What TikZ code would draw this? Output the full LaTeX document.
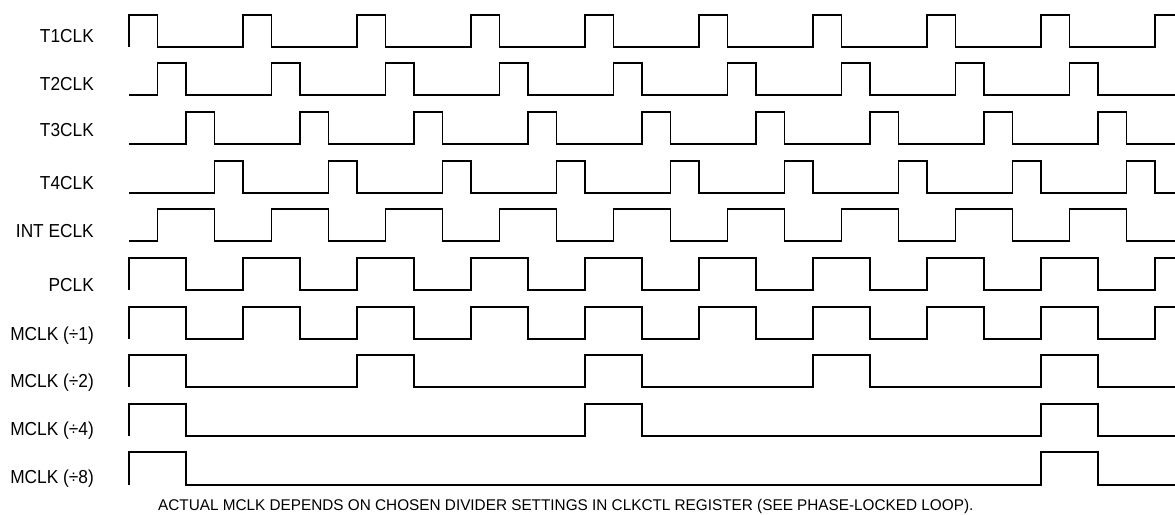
\documentclass[tikz,border=0pt]{standalone}
\usepackage{fontspec}
\setmainfont{Liberation Sans}[FakeStretch=0.92]
\newfontfamily\capfont{Liberation Sans}[FakeStretch=0.988]
\begin{document}
\begin{tikzpicture}[x=1pt,y=-1pt,
  lbl/.style={anchor=base east,inner sep=0pt,font=\fontsize{18.8}{20}\selectfont},
  wave/.style={line width=1.8pt,line join=miter,black}]
\useasboundingbox (0,0) rectangle (1175,514);
% labels
\node[lbl] (l1) at (94,42.7) {T1CLK};
\node[lbl] (l2) at (94,90) {T2CLK};
\node[lbl] (l3) at (94,136.5) {T3CLK};
\node[lbl] (l4) at (94,189.5) {T4CLK};
\node[lbl] (l5) at (94,237) {INT ECLK};
\node[lbl] (l6) at (94,291.7) {PCLK};
\node[lbl] (l7) at (94,340.5) {MCLK (÷1)};
\node[lbl] (l8) at (94,387.5) {MCLK (÷2)};
\node[lbl] (l9) at (94,435.7) {MCLK (÷4)};
\node[lbl] (l10) at (94,483) {MCLK (÷8)};
\node[anchor=base west,inner sep=0pt,font=\capfont\fontsize{15.5}{17}\selectfont] (cap) at (158,510.7)
  {ACTUAL MCLK DEPENDS ON CHOSEN DIVIDER SETTINGS IN CLKCTL REGISTER (SEE PHASE-LOCKED LOOP).};
% waveforms
\begin{scope}[x=28.5pt,xshift=129pt]
% T1CLK
\draw[wave] (0,47) \foreach \i in {0,4,...,32} { -- (\i,15) -- (\i+1,15) -- (\i+1,47) -- (\i+4,47) }
  -- (36,15) -- (36.7,15);
% T2CLK
\draw[wave] (0,95) -- (1,95) \foreach \i in {1,5,...,29} { -- (\i,63) -- (\i+1,63) -- (\i+1,95) -- (\i+4,95) }
  -- (33,63) -- (34,63) -- (34,95) -- (36.7,95);
% T3CLK
\draw[wave] (0,144) -- (2,144) \foreach \i in {2,6,...,30} { -- (\i,112) -- (\i+1,112) -- (\i+1,144) -- (\i+4,144) }
  -- (34,112) -- (35,112) -- (35,144) -- (36.7,144);
% T4CLK
\draw[wave] (0,193) -- (3,193) \foreach \i in {3,7,...,31} { -- (\i,161) -- (\i+1,161) -- (\i+1,193) -- (\i+4,193) }
  -- (35,161) -- (36,161) -- (36,193) -- (36.7,193);
% INT ECLK
\draw[wave] (0,241) -- (1,241) \foreach \i in {1,5,...,29} { -- (\i,209) -- (\i+2,209) -- (\i+2,241) -- (\i+4,241) }
  -- (33,209) -- (35,209) -- (35,241) -- (36.7,241);
% PCLK
\draw[wave] (0,290) \foreach \i in {0,4,...,32} { -- (\i,258) -- (\i+2,258) -- (\i+2,290) -- (\i+4,290) }
  -- (36,258) -- (36.7,258);
% MCLK /1
\draw[wave] (0,339) \foreach \i in {0,4,...,32} { -- (\i,307) -- (\i+2,307) -- (\i+2,339) -- (\i+4,339) }
  -- (36,307) -- (36.7,307);
% MCLK /2
\draw[wave] (0,387) \foreach \i in {0,8,16,24} { -- (\i,355) -- (\i+2,355) -- (\i+2,387) -- (\i+8,387) }
  -- (32,355) -- (34,355) -- (34,387) -- (36.7,387);
% MCLK /4
\draw[wave] (0,436) \foreach \i in {0,16} { -- (\i,404) -- (\i+2,404) -- (\i+2,436) -- (\i+16,436) }
  -- (32,404) -- (34,404) -- (34,436) -- (36.7,436);
% MCLK /8
\draw[wave] (0,485) -- (0,452) -- (2,452) -- (2,485) -- (32,485) -- (32,452) -- (34,452) -- (34,485) -- (36.7,485);
\end{scope}
\end{tikzpicture}
\end{document}
